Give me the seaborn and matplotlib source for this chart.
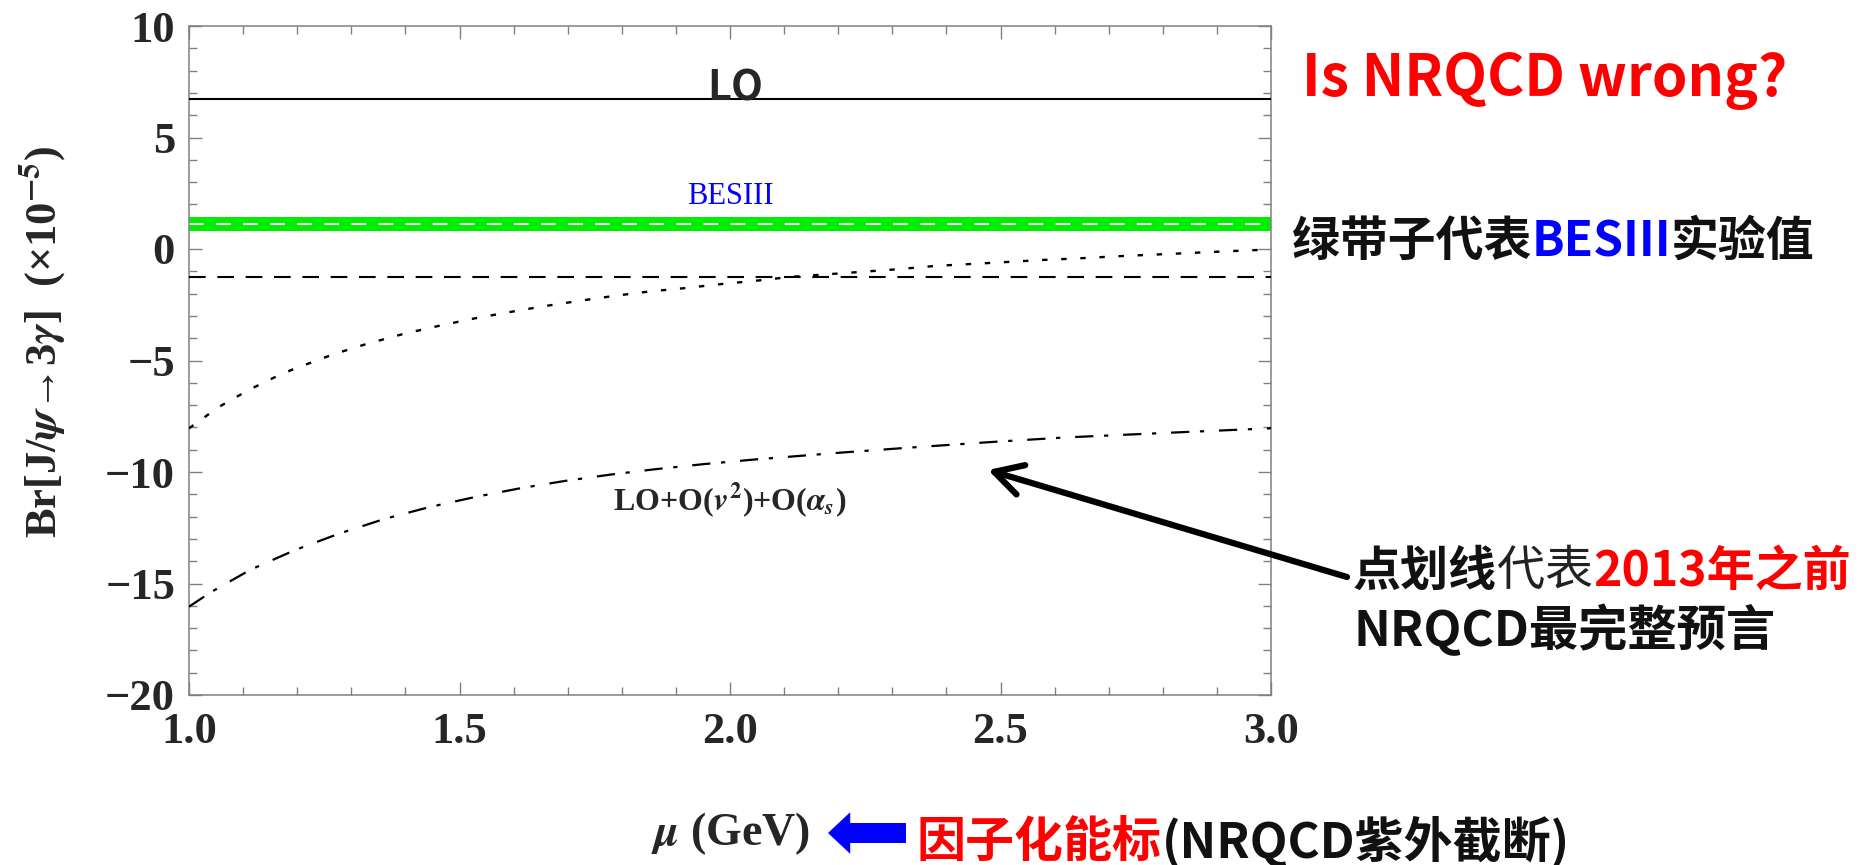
import matplotlib
matplotlib.use('Agg')
import matplotlib.pyplot as plt
from matplotlib.ticker import MultipleLocator, FormatStrFormatter
import seaborn as sns
import pandas as pd

# values (units of 1e-5)
mu_dotted = [1.0, 1.026, 1.054, 1.085, 1.113, 1.144, 1.174, 1.205, 1.267, 1.328, 1.393,
             1.461, 1.526, 1.590, 1.655, 1.720, 1.784, 1.849, 1.914, 1.985, 2.049,
             2.117, 2.182, 2.246, 2.314, 2.379, 2.447, 2.514, 2.579, 2.644, 2.712,
             2.776, 2.850, 2.920, 3.0]
br_dotted = [-8.04, -7.59, -7.10, -6.67, -6.29, -5.92, -5.57, -5.28, -4.72, -4.26, -3.83,
             -3.45, -3.12, -2.84, -2.57, -2.33, -2.11, -1.91, -1.76, -1.57, -1.42,
             -1.24, -1.13, -1.02, -0.90, -0.76, -0.67, -0.58, -0.49, -0.42, -0.33,
             -0.26, -0.18, -0.10, -0.02]

mu_dashdot = [1.0, 1.039, 1.113, 1.196, 1.279, 1.362, 1.445, 1.529, 1.612, 1.695,
              1.778, 1.860, 1.950, 2.050, 2.200, 2.330, 2.480, 2.620, 2.830, 3.0]
br_dashdot = [-16.04, -15.41, -14.39, -13.50, -12.75, -12.10, -11.57, -11.12, -10.73, -10.40,
              -10.12, -9.88, -9.65, -9.43, -9.14, -8.91, -8.66, -8.45, -8.22, -8.04]

br_lo = 6.74
br_dashed = -1.27
besiii_central = 1.12
besiii_low = 0.81
besiii_high = 1.42

x_ticks = [1.0, 1.5, 2.0, 2.5, 3.0]
y_ticks = [-20, -15, -10, -5, 0, 5, 10]

W, H = 1862, 865


def px(x, y):
    # figure pixel -> figure fraction
    return x / W, 1 - y / H


sns.set_style('ticks')
plt.rcParams['font.family'] = ['Liberation Serif', 'DejaVu Serif']
plt.rcParams['font.weight'] = 'bold'
plt.rcParams['mathtext.fontset'] = 'stix'
cjk = ['Noto Sans CJK SC', 'DejaVu Sans']

fig = plt.figure(figsize=(W / 100, H / 100), dpi=100)
ax = fig.add_axes([189 / W, 1 - 695 / H, 1082 / W, 669 / H])

# BESIII band and lines
ax.axhspan(besiii_low, besiii_high, color='#00ef00', lw=0, zorder=1)
ax.axhline(besiii_central, color='white', lw=1.5, dashes=(7, 6), zorder=2)
ax.axhline(br_lo, color='black', lw=1.5, zorder=3)
ax.axhline(br_dashed, color='black', lw=1.5, dashes=(8, 5.6), zorder=3)

df_dot = pd.DataFrame({'mu': mu_dotted, 'br': br_dotted})
df_dd = pd.DataFrame({'mu': mu_dashdot, 'br': br_dashdot})
sns.lineplot(data=df_dot, x='mu', y='br', ax=ax, color='black', lw=1.7,
             linestyle=(0, (2.3, 5.8)), zorder=3)
sns.lineplot(data=df_dd, x='mu', y='br', ax=ax, color='black', lw=1.6,
             linestyle=(0, (8.2, 4.8, 1.9, 6.7)), zorder=3)

ax.set_xlim(1, 3)
ax.set_ylim(-20, 10)
ax.set_xticks(x_ticks)
ax.set_yticks(y_ticks)
ax.xaxis.set_major_formatter(FormatStrFormatter('%.1f'))
ax.xaxis.set_minor_locator(MultipleLocator(0.1))
ax.yaxis.set_minor_locator(MultipleLocator(1))

frame = '#808080'
for sp in ax.spines.values():
    sp.set_color(frame)
    sp.set_linewidth(1.1)
ax.tick_params(which='both', direction='in', top=True, right=True, color=frame, width=1.0)
ax.tick_params(which='major', length=9.5, labelsize=32)
ax.tick_params(which='minor', length=5.8)
ax.tick_params(axis='y', pad=10)
ax.tick_params(axis='x', pad=12)

ax.set_xlabel(r'$\mu$ (GeV)', fontsize=33, fontweight='bold')
ax.xaxis.set_label_coords(0.5, -0.172)
ax.set_ylabel(r'Br[J/$\psi$→3$\gamma$]  (×10$^{-5}$)', fontsize=32, fontweight='bold')
ax.yaxis.set_label_coords(-0.113, 0.528)

# curve labels
ax.text(2.01, 6.68, 'LO', family=cjk, fontsize=30, fontweight='bold', ha='center', va='baseline')
ax.text(2.0, 2.02, 'BESIII', color='blue', fontsize=22, fontweight='normal', ha='center', va='baseline')
ax.text(2.0, -11.7, r'LO+O($v^2$)+O($\alpha_s$)', fontsize=23, fontweight='bold', ha='center', va='baseline')


def colored_line(x, y, parts, size):
    s, c, w = parts[0]
    t = fig.text(*px(x, y), s, color=c, fontweight=w, family=cjk, fontsize=size, va='baseline')
    for s, c, w in parts[1:]:
        t = ax.annotate(s, xy=(1, 0), xycoords=t, color=c, fontweight=w, family=cjk,
                        fontsize=size, ha='left', va='bottom')
    return t


fig.text(*px(1545, 96), 'Is NRQCD wrong?', color='red', family=cjk, fontsize=41,
         fontweight='bold', ha='center', va='baseline')
colored_line(1292, 256, [('绿带子代表', '#111111', 'bold'), ('BESIII', 'blue', 'bold'),
                         ('实验值', '#111111', 'bold')], 34.5)
colored_line(1353, 586, [('点划线', '#111111', 'bold'), ('代表', '#222222', 'normal'),
                         ('2013年之前', 'red', 'bold')], 34.6)
colored_line(1353, 646, [('NRQCD最完整预言', '#111111', 'bold')], 35.5)
colored_line(917, 857, [('因子化能标', 'red', 'bold'), ('(NRQCD紫外截断)', '#111111', 'bold')], 35.3)

# arrows
ax.annotate('', xy=px(988, 470), xycoords='figure fraction', xytext=px(1347, 577),
            textcoords='figure fraction',
            arrowprops=dict(arrowstyle='->,head_length=1.0,head_width=0.55', lw=4.5,
                            color='black', shrinkA=0, shrinkB=0, mutation_scale=20))
ax.annotate('', xy=px(828, 833), xycoords='figure fraction', xytext=px(906, 833),
            textcoords='figure fraction',
            arrowprops=dict(arrowstyle='simple,head_length=0.8,head_width=1.5,tail_width=0.72',
                            color='blue', lw=0, shrinkA=0, shrinkB=0, mutation_scale=20))

fig.savefig('out.png', dpi=100)
